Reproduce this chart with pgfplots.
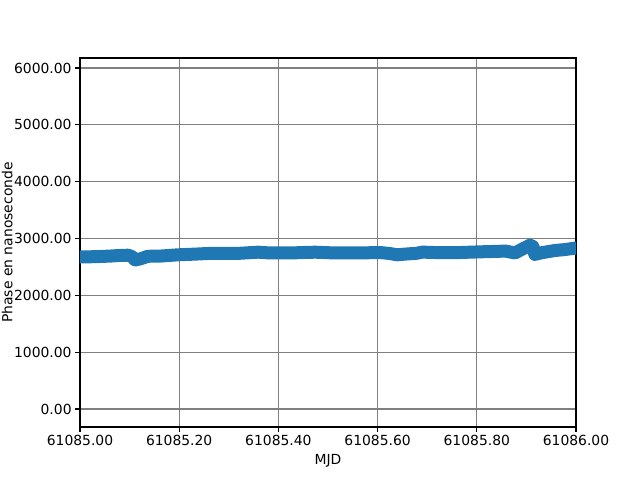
\documentclass[border=0pt]{standalone}
\usepackage{pgfplots}
\pgfplotsset{compat=1.18}
\usepackage{fontspec}
\setmainfont{DejaVu Sans}
\usetikzlibrary{calc}
\definecolor{mplblue}{HTML}{1F77B4}
\begin{document}
\begin{tikzpicture}
\begin{axis}[
  name=ax, at={(0,0)}, anchor=south west,
  scale only axis, width=496pt, height=369pt,
  xmin=0, xmax=1, ymin=-317, ymax=6176,
  font=\fontsize{13.9}{16}\selectfont,
  xtick={0,0.2,0.4,0.6,0.8,1},
  xticklabels={61085.00,61085.20,61085.40,61085.60,61085.80,61086.00},
  ytick={0,1000,2000,3000,4000,5000,6000},
  yticklabel style={/pgf/number format/.cd, fixed, fixed zerofill, precision=2, 1000 sep={}, assume math mode=true},
  grid=major, major grid style={color=gray, line width=1.2pt},
  tick align=outside, major tick length=4.86pt,
  tick style={black, line width=1.1pt},
  xtick pos=left, ytick pos=left,
  axis line style={line width=1.1pt},
  xlabel={MJD}, ylabel={Phase en nanoseconde},
  xlabel style={at={(axis description cs:0.5,0)}, anchor=base, yshift=-38pt, inner sep=0pt},
  ylabel style={at={(axis description cs:0,0.5)}, anchor=base, yshift=67.5pt, inner sep=0pt},
]
\addplot[mplblue, line width=13pt, line join=round, line cap=round] coordinates {
(0.000,2674) (0.030,2680) (0.060,2690) (0.077,2700) (0.097,2706) (0.105,2680)
(0.111,2622) (0.121,2640) (0.137,2687) (0.161,2690) (0.198,2713) (0.232,2725)
(0.258,2736) (0.282,2738) (0.323,2740) (0.359,2759) (0.383,2745) (0.423,2745)
(0.474,2759) (0.514,2745) (0.560,2745) (0.605,2753) (0.625,2735) (0.639,2713)
(0.655,2725) (0.679,2740) (0.690,2760) (0.726,2750) (0.766,2753) (0.806,2765)
(0.847,2775) (0.857,2780) (0.877,2745) (0.891,2810) (0.907,2882) (0.913,2860)
(0.917,2720) (0.931,2750) (0.958,2789) (0.978,2805) (1.000,2833)
};
\end{axis}
\pgfresetboundingbox
\path[use as bounding box] ($(ax.south west)+(-80pt,-53pt)$) rectangle ($(ax.north east)+(64pt,58pt)$);
\end{tikzpicture}
\end{document}
